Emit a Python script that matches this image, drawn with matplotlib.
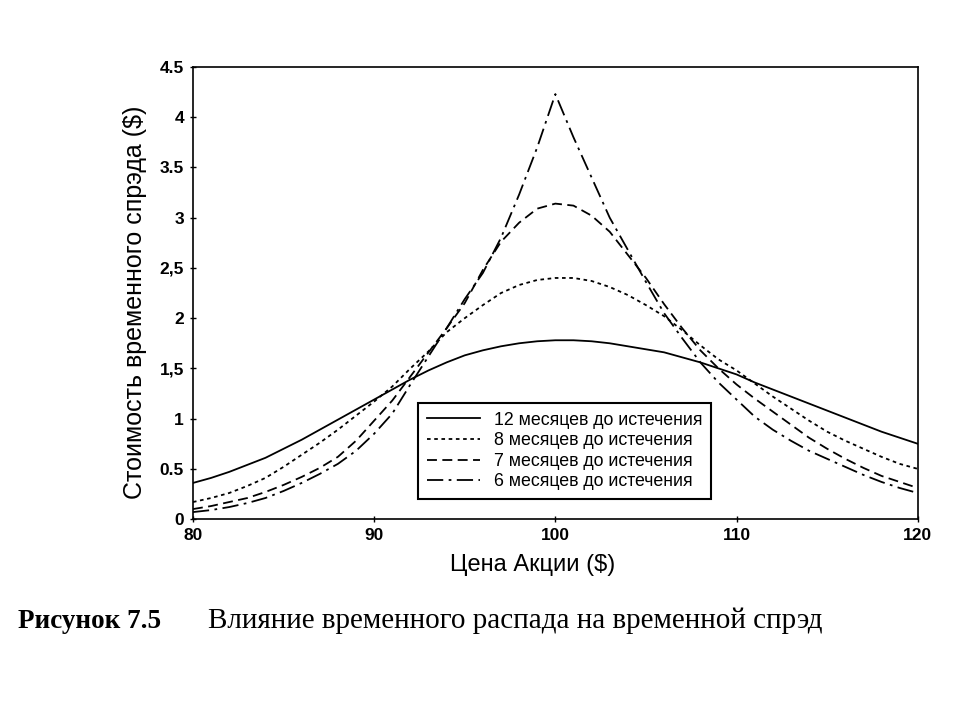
import numpy as np
import matplotlib
matplotlib.use('Agg')
import matplotlib.pyplot as plt

plt.rcParams['font.family'] = ['Liberation Sans', 'DejaVu Sans']

# stock price, $
price = list(range(80, 121))

# time spread value, $
months_12 = [0.36, 0.41, 0.47, 0.54, 0.61, 0.70, 0.79, 0.89, 0.99, 1.09,
             1.19, 1.29, 1.39, 1.48, 1.56, 1.63, 1.68, 1.72, 1.75, 1.77,
             1.78, 1.78, 1.77, 1.75, 1.72, 1.69, 1.66, 1.61, 1.56, 1.50,
             1.44, 1.36, 1.29, 1.22, 1.15, 1.08, 1.01, 0.94, 0.87, 0.81,
             0.75]
months_8 = [0.17, 0.21, 0.26, 0.33, 0.41, 0.52, 0.64, 0.76, 0.89, 1.03,
            1.17, 1.32, 1.50, 1.67, 1.86, 2.00, 2.13, 2.25, 2.33, 2.38,
            2.40, 2.40, 2.37, 2.31, 2.23, 2.13, 2.02, 1.88, 1.73, 1.59,
            1.48, 1.35, 1.22, 1.10, 0.98, 0.87, 0.78, 0.70, 0.62, 0.55,
            0.50]
months_7 = [0.10, 0.13, 0.17, 0.21, 0.27, 0.34, 0.42, 0.51, 0.62, 0.78,
            0.98, 1.18, 1.42, 1.66, 1.90, 2.15, 2.48, 2.76, 2.95, 3.09,
            3.14, 3.12, 3.02, 2.86, 2.63, 2.40, 2.14, 1.90, 1.68, 1.50,
            1.34, 1.20, 1.07, 0.94, 0.81, 0.70, 0.60, 0.51, 0.43, 0.37,
            0.31]
months_6 = [0.07, 0.09, 0.12, 0.16, 0.21, 0.28, 0.36, 0.45, 0.55, 0.68,
            0.85, 1.05, 1.34, 1.62, 1.90, 2.19, 2.45, 2.80, 3.23, 3.70,
            4.23, 3.80, 3.40, 3.00, 2.68, 2.36, 2.05, 1.80, 1.56, 1.36,
            1.19, 1.02, 0.89, 0.78, 0.68, 0.60, 0.52, 0.44, 0.37, 0.31,
            0.26]

labels = ['12 месяцев до истечения', '8 месяцев до истечения',
          '7 месяцев до истечения', '6 месяцев до истечения']
styles = ['-', (0, (2, 2)), (0, (5.5, 3)), (0, (9, 3, 1.5, 3))]

y_ticks = [0, 0.5, 1, 1.5, 2, 2.5, 3, 3.5, 4, 4.5]
y_tick_labels = ['0', '0.5', '1', '1,5', '2', '2,5', '3', '3.5', '4', '4.5']
x_ticks = [80, 90, 100, 110, 120]

fig = plt.figure(figsize=(9.6, 7.2), dpi=100)
ax = fig.add_axes([0.201, 0.279, 0.755, 0.628])

for series, style, label in zip([months_12, months_8, months_7, months_6], styles, labels):
    ax.plot(price, series, color='black', linestyle=style, linewidth=1.3, label=label)

ax.set_xlim(80, 120)
ax.set_ylim(0, 4.5)
ax.set_xticks(x_ticks)
ax.set_yticks(y_ticks)
ax.set_yticklabels(y_tick_labels)
ax.tick_params(direction='inout', length=5, width=1, labelsize=12.5, pad=4)
for lbl in ax.get_xticklabels() + ax.get_yticklabels():
    lbl.set_fontweight('semibold')
for spine in ax.spines.values():
    spine.set_linewidth(1.2)

ax.set_xlabel('Цена Акции ($)', fontsize=17)
ax.xaxis.set_label_coords(0.469, -0.078)
ax.set_ylabel('Стоимость временного спрэда ($)', fontsize=18)
ax.yaxis.set_label_coords(-0.064, 0.48)

leg = ax.legend(loc='lower left', bbox_to_anchor=(0.31, 0.044), fontsize=12.8,
                handlelength=3.0, labelspacing=0.2, borderpad=0.5,
                handletextpad=0.8, fancybox=False, framealpha=1,
                edgecolor='black', borderaxespad=0)
leg.get_frame().set_linewidth(1.5)

serif = ['Liberation Serif', 'DejaVu Serif']
fig.text(0.019, 0.1375, 'Рисунок 7.5', fontsize=19.5, fontweight='bold', family=serif, va='center')
fig.text(0.217, 0.1375, 'Влияние временного распада на временной спрэд', fontsize=21,
         family=serif, va='center')

fig.savefig('out.png', dpi=100)
